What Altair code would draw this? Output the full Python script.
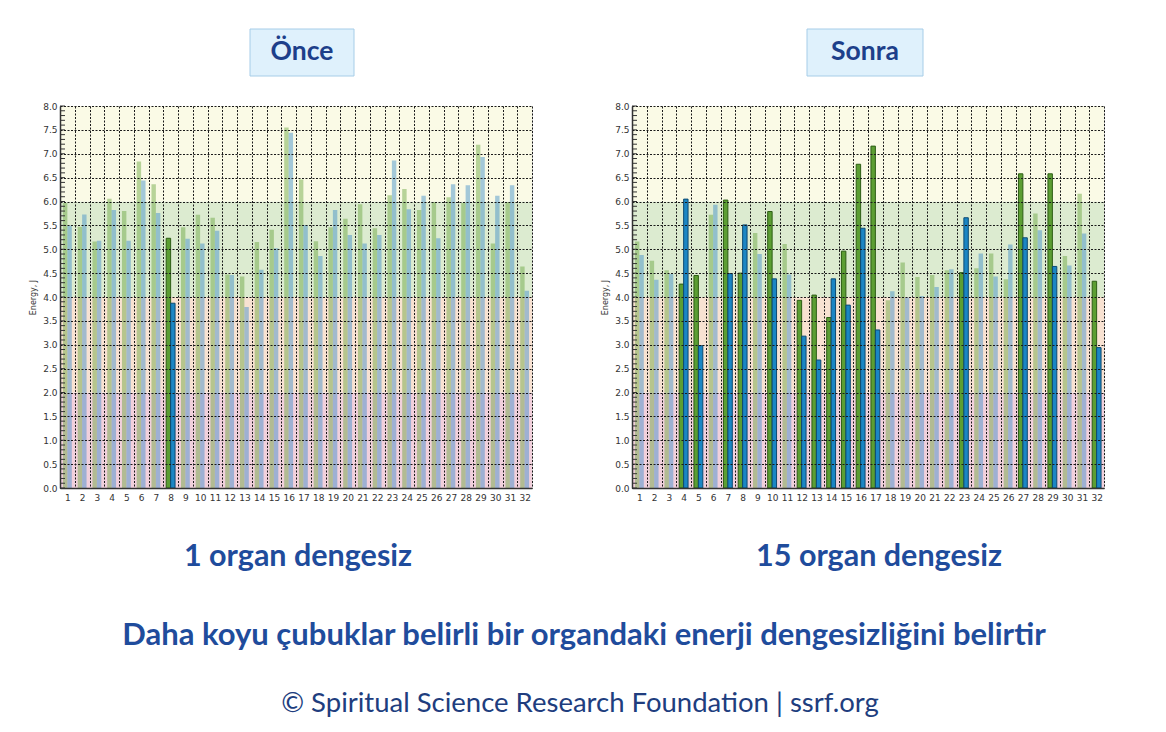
import altair as alt
import pandas as pd

# ---------------- data ----------------
organs = list(range(1, 33))

before_green = [5.97, 5.47, 5.16, 6.06, 5.80, 6.84, 6.36, 5.23, 5.46, 5.72, 5.66, 4.47,
                4.43, 5.15, 5.41, 7.55, 6.46, 5.17, 5.46, 5.64, 5.94, 5.44, 6.13, 6.26,
                5.82, 5.99, 6.09, 5.97, 7.19, 5.12, 5.99, 4.64]
before_blue = [5.50, 5.73, 5.18, 5.82, 5.18, 6.44, 5.76, 3.87, 5.22, 5.12, 5.39, 4.46,
               3.79, 4.57, 5.02, 7.44, 5.51, 4.86, 5.82, 5.30, 5.12, 5.30, 6.86, 5.84,
               6.12, 5.23, 6.36, 6.34, 6.93, 6.12, 6.34, 4.13]
before_imbalanced = [8]

after_green = [5.16, 4.76, 4.56, 4.27, 4.45, 5.72, 6.03, 4.50, 5.34, 5.79, 5.11, 3.93,
               4.04, 3.57, 4.96, 6.78, 7.16, 3.93, 4.72, 4.42, 4.46, 4.56, 4.51, 4.60,
               4.91, 4.37, 6.58, 5.75, 6.58, 4.86, 6.16, 4.33]
after_blue = [4.88, 4.36, 4.48, 6.05, 2.98, 5.93, 4.49, 5.51, 4.90, 4.38, 4.47, 3.18,
              2.68, 4.38, 3.83, 5.44, 3.31, 4.12, 3.99, 4.02, 4.21, 4.58, 5.66, 4.91,
              4.43, 5.10, 5.24, 5.40, 4.64, 4.66, 5.33, 2.94]
after_imbalanced = [4, 5, 7, 8, 10, 12, 13, 14, 15, 16, 17, 23, 27, 29, 32]

zone_names = ["low", "mid", "ok", "high"]
zone_lo = [0, 2, 4, 6]
zone_hi = [2, 4, 6, 8]

y_ticks = [0.0, 0.5, 1.0, 1.5, 2.0, 2.5, 3.0, 3.5, 4.0, 4.5, 5.0, 5.5, 6.0, 6.5, 7.0, 7.5, 8.0]
minor_ticks = [round(i / 10, 1) for i in range(0, 81)]

panel_titles = ["Önce", "Sonra"]
panel_subtitles = ["1 organ dengesiz", "15 organ dengesiz"]
caption = "Daha koyu çubuklar belirli bir organdaki enerji dengesizliğini belirtir"
footer = "© Spiritual Science Research Foundation | ssrf.org"

# ---------------- styling ----------------
W, H = 472, 382
zone_colors = ["#f1d0dc", "#f8e2d2", "#dcebd0", "#fafae6"]
series_dom = ["green", "blue"]
faded_colors = ["#5a9e2e", "#2a84c6"]
dark_fill = ["#5c9e33", "#1b86c4"]
dark_stroke = ["#2d5e15", "#0c4a72"]
TXT = "#1f4c9c"
FONT = "Lato"


def long_df(g, b, dark):
    rows = []
    for i, o in enumerate(organs):
        st = "dark" if o in dark else "faded"
        rows.append({"organ": o, "series": "green", "value": g[i], "state": st})
        rows.append({"organ": o, "series": "blue", "value": b[i], "state": st})
    return pd.DataFrame(rows)


zones_df = pd.DataFrame({"zone": zone_names, "lo": zone_lo, "hi": zone_hi})
minor_df = pd.DataFrame({"t": minor_ticks})

y_axis = alt.Axis(values=y_ticks, format=".1f", title="Energy, J", titleFontSize=8,
                  titleFontWeight="normal", titleFont="DejaVu Sans", titleColor="#333",
                  titlePadding=5, labelFont="DejaVu Sans", labelFontSize=9,
                  labelColor="#333", labelPadding=3, ticks=False, grid=True,
                  gridDash=[2, 1.5], gridColor="#1a1a1a", gridWidth=1,
                  domainColor="#333", domainWidth=1.5, zindex=1)
y_scale = alt.Scale(domain=[0, 8], nice=False, zero=True)

x_axis = alt.Axis(title=None, labelAngle=0, tickBand="extent", grid=True,
                  gridDash=[2, 1.5], gridColor="#1a1a1a", gridWidth=1, ticks=False,
                  domainColor="#333", domainWidth=1.5, labelFont="DejaVu Sans",
                  labelFontSize=9, labelColor="#333", labelPadding=5, zindex=1)
x_scale = alt.Scale(paddingInner=0, paddingOuter=0)
xo = alt.XOffset("series:N", scale=alt.Scale(domain=series_dom, paddingOuter=0.667,
                                             paddingInner=0))


def text_layer(txt, x, y, size, weight="bold", color=TXT):
    return alt.Chart(pd.DataFrame({"label": [txt]})).mark_text(
        font=FONT, fontSize=size, fontWeight=weight, color=color,
        align="center", baseline="middle").encode(
        x=alt.value(x), y=alt.value(y), text="label:N")


def panel(g, b, dark, title, box_x0, box_x1, sub, sub_x, with_caption):
    df = long_df(g, b, dark)
    bands = alt.Chart(zones_df).mark_rect().encode(
        x=alt.value(0), x2=alt.value(W),
        y=alt.Y("lo:Q", scale=y_scale, axis=y_axis), y2="hi:Q",
        color=alt.Color("zone:N", scale=alt.Scale(domain=zone_names, range=zone_colors),
                        legend=None))
    faded = alt.Chart(df).transform_filter(alt.datum.state == "faded").mark_bar(
        opacity=0.42).encode(
        x=alt.X("organ:O", scale=x_scale, axis=x_axis, sort=organs), xOffset=xo,
        y=alt.Y("value:Q", scale=y_scale, axis=y_axis),
        fill=alt.Fill("series:N", scale=alt.Scale(domain=series_dom, range=faded_colors),
                      legend=None))
    darkbars = alt.Chart(df).transform_filter(alt.datum.state == "dark").mark_bar(
        strokeWidth=1).encode(
        x=alt.X("organ:O", scale=x_scale, axis=x_axis, sort=organs), xOffset=xo,
        y=alt.Y("value:Q", scale=y_scale, axis=y_axis),
        color=alt.Color("series:N", scale=alt.Scale(domain=series_dom, range=dark_fill),
                        legend=None),
        stroke=alt.Stroke("series:N", scale=alt.Scale(domain=series_dom, range=dark_stroke),
                          legend=None))
    minor = alt.Chart(minor_df).mark_rule(color="#333", strokeWidth=1).encode(
        x=alt.value(0), x2=alt.value(5),
        y=alt.Y("t:Q", scale=y_scale, axis=y_axis))
    box = alt.Chart(pd.DataFrame({"k": [1]})).mark_rect(
        fill="#dff1fc", stroke="#a6cde8", strokeWidth=1).encode(
        x=alt.value(box_x0), x2=alt.value(box_x1), y=alt.value(-77), y2=alt.value(-30))
    layers = [bands, faded, darkbars, minor, box,
              text_layer(title, (box_x0 + box_x1) / 2, -54, 26.5, color="#1d3f8a"),
              text_layer(sub, sub_x, 451, 30.5)]
    if with_caption:
        layers += [text_layer(caption, 524, 530, 31),
                   text_layer(footer, 520, 598, 27.5, weight="normal", color="#203d7e")]
    return alt.layer(*layers).resolve_scale(
        color="independent", fill="independent", stroke="independent"
    ).properties(width=W, height=H)


left = panel(before_green, before_blue, before_imbalanced, panel_titles[0],
             190, 294, panel_subtitles[0], 238, True)
right = panel(after_green, after_blue, after_imbalanced, panel_titles[1],
              175, 291, panel_subtitles[1], 247, False)

chart = alt.hconcat(left, right, spacing=100, bounds="flush").properties(
    padding={"left": 21, "top": 20, "right": 5, "bottom": 5}
).configure_view(stroke="#444", strokeWidth=1).configure(background="white")

chart.save("out.html", embed_options={"renderer": "svg", "actions": False})
